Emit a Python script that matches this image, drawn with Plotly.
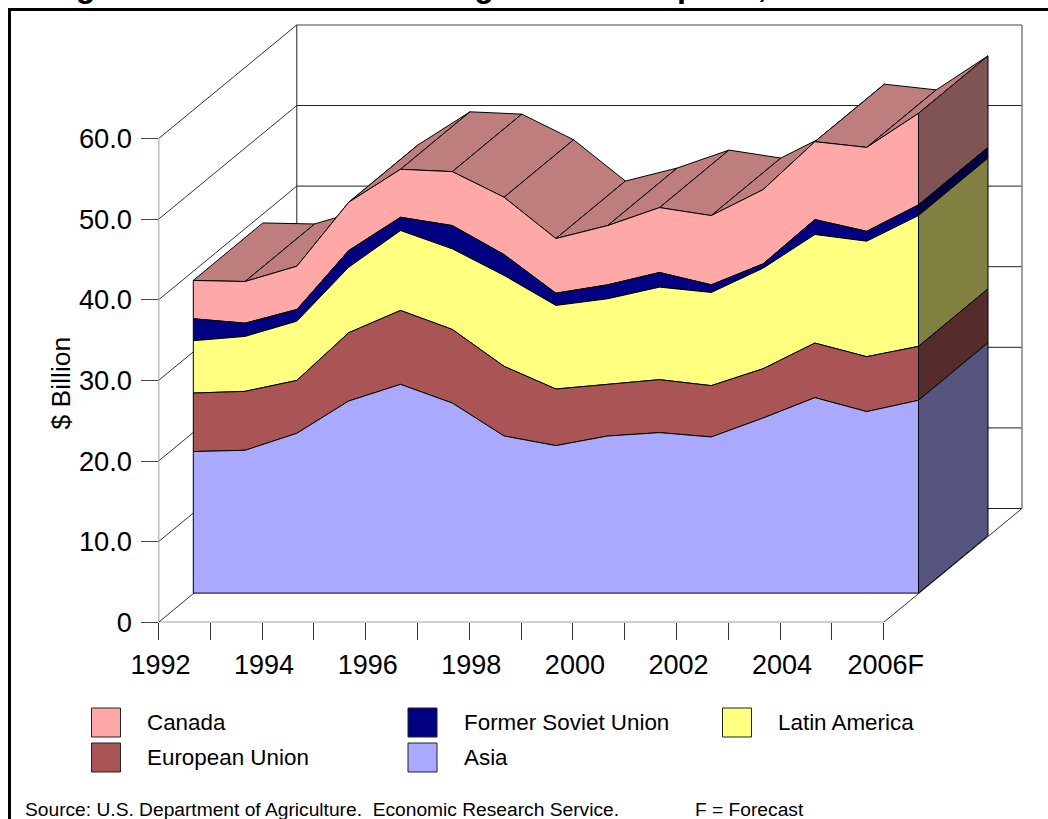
import plotly.graph_objects as go

# ---------- data ($ billion) ----------
years = list(range(1992, 2007))
tick_labels = ["1992", "", "1994", "", "1996", "", "1998", "", "2000", "", "2002", "", "2004", "", "2006F"]
y_ticks = [0, 10, 20, 30, 40, 50, 60]
y_labels = ["0", "10.0", "20.0", "30.0", "40.0", "50.0", "60.0"]

asia = [17.56, 17.72, 19.83, 23.83, 25.90, 23.58, 19.49, 18.30, 19.49, 19.91, 19.37, 21.72, 24.25, 22.52, 23.92]
european_union = [7.26, 7.31, 6.56, 8.47, 9.17, 9.13, 8.64, 7.02, 6.41, 6.57, 6.37, 6.12, 6.77, 6.81, 6.69]
latin_america = [6.49, 6.82, 7.35, 8.13, 9.91, 10.00, 11.28, 10.37, 10.62, 11.48, 11.56, 12.47, 13.47, 14.33, 16.23]
former_soviet = [2.73, 1.64, 1.45, 2.07, 1.65, 2.89, 2.59, 1.52, 1.73, 1.82, 0.95, 0.54, 1.85, 1.23, 1.33]
canada = [4.75, 5.17, 5.37, 5.99, 5.95, 6.69, 7.11, 6.78, 7.35, 8.05, 8.59, 9.21, 9.67, 10.41, 11.35]

series = [
    ("Asia", asia, "#A9A9FF", "#555580"),
    ("European Union", european_union, "#A95555", "#552B2B"),
    ("Latin America", latin_america, "#FFFF80", "#808040"),
    ("Former Soviet Union", former_soviet, "#000080", "#000040"),
    ("Canada", canada, "#FFA8A8", "#805454"),
]
TOP_COLOR = "#BF7E7E"

# ---------- layout geometry ----------
W, H = 1048, 819
PX_X = 51.8     # pixels per year
PX_Y = 8.06     # pixels per $ billion
LEFT, BOTTOM = 158.5, 622.3
FX, FY = 34.8 / PX_X, 29.2 / PX_Y    # front of the area band, relative to the axes
DX, DY = 69.5 / PX_X, 57.5 / PX_Y    # thickness of the band
WX, WY = 138.3 / PX_X, 113.8 / PX_Y  # back wall
X0, X1 = years[0], years[-1]

fig = go.Figure()


def poly(xs, ys, fill, line="#000000", width=1):
    fig.add_trace(go.Scatter(x=xs, y=ys, mode="lines", fill="toself", fillcolor=fill,
                             line=dict(color=line, width=width), hoverinfo="skip", showlegend=False))


def seg(xs, ys, color="#222222", width=1):
    fig.add_trace(go.Scatter(x=xs, y=ys, mode="lines", line=dict(color=color, width=width),
                             hoverinfo="skip", showlegend=False))


# walls
for v in y_ticks:
    seg([X0, X0 + WX], [v, v + WY], "#333333")
    top = v == y_ticks[-1]
    seg([X0 + WX, X1 + WX], [v + WY, v + WY], "#808080" if top else "#222222", 1.5 if top else 1)
seg([X0, X0], [0, 60], "#808080", 1.5)
seg([X0 + WX, X0 + WX], [WY, 60 + WY], "#222222")
seg([X1 + WX, X1 + WX], [WY, 60 + WY], "#808080", 1.5)
seg([X0, X1], [0, 0], "#111111")
seg([X1, X1 + WX], [0, WY], "#333333")

# cumulative stack
cum = []
run = [0.0] * len(years)
for name, vals, col, dark in series:
    lo = run
    hi = [a + b for a, b in zip(run, vals)]
    cum.append((name, lo, hi, col, dark))
    run = hi
total = run
xf = [y + FX for y in years]

# top surface, left to right
for i in range(len(years) - 1):
    a, b = xf[i], xf[i + 1]
    ya, yb = total[i] + FY, total[i + 1] + FY
    poly([a, b, b + DX, a + DX, a], [ya, yb, yb + DY, ya + DY, ya], TOP_COLOR)

# front faces
for name, lo, hi, col, dark in reversed(cum):
    xs = xf + xf[::-1] + [xf[0]]
    ys = [v + FY for v in hi] + [v + FY for v in lo[::-1]] + [hi[0] + FY]
    poly(xs, ys, col)

# right side faces
xe = xf[-1]
for name, lo, hi, col, dark in reversed(cum):
    l, h = lo[-1] + FY, hi[-1] + FY
    poly([xe, xe + DX, xe + DX, xe, xe], [l, l + DY, h + DY, h, l], dark)

font = "Liberation Sans, Arial, sans-serif"


def px(x):
    return x / W


def py(y):
    return 1 - y / H


fig.update_layout(
    width=W, height=H, margin=dict(l=0, r=0, t=0, b=0, pad=0, autoexpand=False),
    paper_bgcolor="white", plot_bgcolor="white", showlegend=False,
    font=dict(family=font, color="black"),
    xaxis=dict(domain=[px(LEFT), 1], range=[X0, X0 + (W - LEFT) / PX_X], showgrid=False, zeroline=False,
               showline=False, tickmode="array", tickvals=years, ticktext=tick_labels, ticks="outside",
               ticklen=17, tickwidth=1, tickcolor="#333333", tickangle=0, ticklabelstandoff=1, ticklabelshift=2,
               tickfont=dict(size=27, family=font)),
    yaxis=dict(domain=[py(BOTTOM), 1], range=[0, BOTTOM / PX_Y], showgrid=False, zeroline=False,
               showline=False, tickmode="array", tickvals=y_ticks, ticktext=y_labels, ticks="outside",
               ticklen=17, tickwidth=1, tickcolor="#444444", ticklabelstandoff=3,
               tickfont=dict(size=27.3, family=font)),
)

shapes = [
    dict(type="line", xref="paper", yref="paper", x0=px(9.5), x1=px(9.5), y0=py(8), y1=py(819),
         line=dict(color="black", width=3)),
    dict(type="line", xref="paper", yref="paper", x0=px(8), x1=1, y0=py(9.5), y1=py(9.5),
         line=dict(color="black", width=3)),
]
legend_items = [
    ("Canada", "#FFA8A8", 91.5, 708, 147),
    ("Former Soviet Union", "#000080", 408, 708, 464),
    ("Latin America", "#FFFF80", 722.5, 708, 778),
    ("European Union", "#A95555", 91.5, 743, 147),
    ("Asia", "#A9A9FF", 408, 743, 464),
]
ann = []
for label, col, sx, sy, tx in legend_items:
    shapes.append(dict(type="rect", xref="paper", yref="paper", x0=px(sx), x1=px(sx + 29), y0=py(sy), y1=py(sy + 29),
                       fillcolor=col, line=dict(color="#222222", width=1)))
    ann.append(dict(text=label, xref="paper", yref="paper", x=px(tx - 2), y=py(sy + 14.5), xanchor="left", yanchor="middle",
                    showarrow=False, font=dict(size=22.4, family=font)))
ann.append(dict(text="$ Billion", xref="paper", yref="paper", x=px(60.5), y=py(383), textangle=-90,
                xanchor="center", yanchor="middle", showarrow=False, font=dict(size=26.5, family=font)))
ann.append(dict(text="Source: U.S. Department of Agriculture.  Economic Research Service.", xref="paper", yref="paper",
                x=px(23), y=py(809), xanchor="left", yanchor="middle", showarrow=False, font=dict(size=19.2, family=font)))
ann.append(dict(text="F = Forecast", xref="paper", yref="paper", x=px(693), y=py(809), xanchor="left", yanchor="middle",
                showarrow=False, font=dict(size=19.2, family=font)))
ann.append(dict(text="<b>Figure 1 - Markets for U.S. agricultural exports, 1992-2006F</b>", xref="paper", yref="paper",
                x=px(44.5), y=py(-13.6), xanchor="left", yanchor="middle", showarrow=False,
                font=dict(size=32.3, family=font)))
fig.update_layout(shapes=shapes, annotations=ann)

fig.write_html("out.html", config=dict(displayModeBar=False),
               post_script="document.body.style.margin='0';document.documentElement.style.overflow='hidden';")
